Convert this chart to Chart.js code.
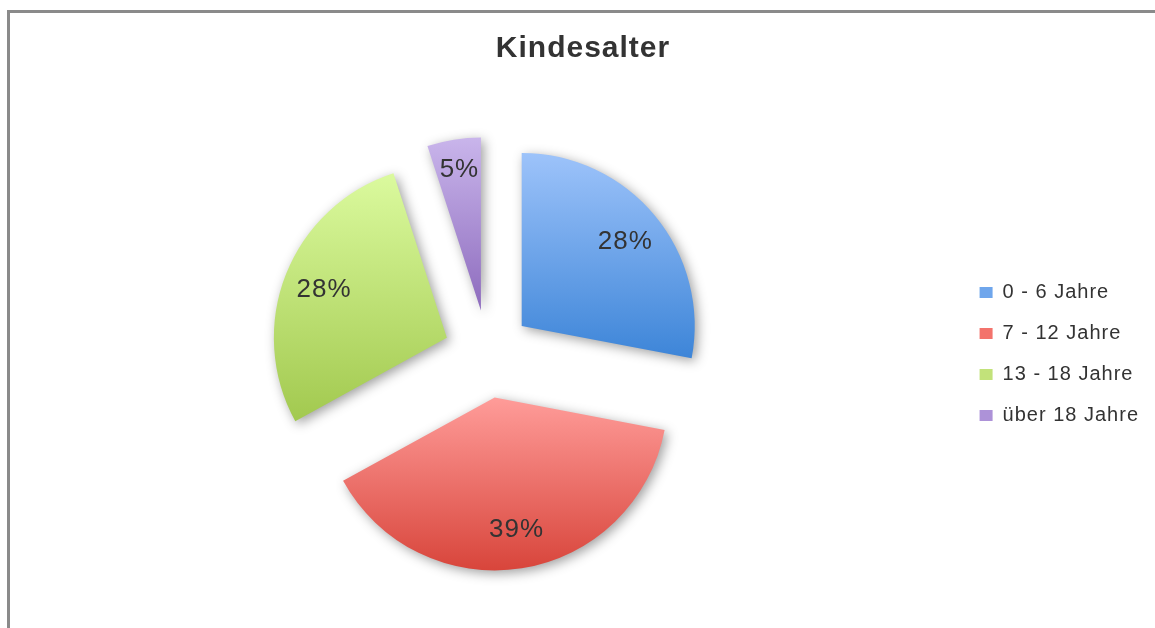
<!DOCTYPE html>
<html><head><meta charset="utf-8">
<script src="https://cdn.jsdelivr.net/npm/chart.js@4/dist/chart.umd.min.js"></script>
<style>
html,body{margin:0;padding:0;width:1155px;height:628px;overflow:hidden;background:#fff;}
#frame{position:absolute;left:7px;top:10px;width:1175px;height:670px;border:3px solid #8a8a8a;box-sizing:border-box;}
#wrap{position:absolute;left:10px;top:13px;width:1150px;height:640px;}
</style></head><body>
<div id="frame"></div>
<div id="wrap"><canvas id="c" width="1150" height="640"></canvas></div>
<script>
const chartTitle = 'Kindesalter';
const categories = ['0 - 6 Jahre', '7 - 12 Jahre', '13 - 18 Jahre', 'über 18 Jahre'];
const values = [28, 39, 28, 5];
const topColors = ['#9DC3FA', '#FF9C99', '#DBFA9E', '#C9B5EB'];
const bottomColors = ['#3D85D8', '#D8453B', '#A2C94F', '#8D6BBD'];
const legendColors = ['#6FA6EC', '#F3736C', '#C2E27A', '#AD92D8'];

const EXPLODE = 44;
const FONT = '"Liberation Sans", Arial, Helvetica, sans-serif';

const spacingPlugin = {
  id: 'spacing',
  beforeLayout(chart) { chart.ctx.letterSpacing = '1px'; },
  beforeDraw(chart) { chart.ctx.letterSpacing = '1px'; }
};

const explodePlugin = {
  id: 'explode',
  beforeDatasetDraw(chart, args) {
    const ctx = chart.ctx;
    args.meta.data.forEach((arc, i) => {
      const p = arc.getProps(['x', 'y', 'startAngle', 'endAngle', 'outerRadius'], true);
      const mid = (p.startAngle + p.endAngle) / 2;
      const dx = Math.cos(mid) * EXPLODE, dy = Math.sin(mid) * EXPLODE;
      let ymin = p.y, ymax = p.y;
      for (let k = 0; k <= 90; k++) {
        const a = p.startAngle + (p.endAngle - p.startAngle) * k / 90;
        const py = p.y + Math.sin(a) * p.outerRadius;
        ymin = Math.min(ymin, py); ymax = Math.max(ymax, py);
      }
      const g = ctx.createLinearGradient(0, ymin, 0, ymax);
      g.addColorStop(0, topColors[i]);
      g.addColorStop(1, bottomColors[i]);
      ctx.save();
      ctx.translate(dx, dy);
      ctx.shadowColor = 'rgba(0,0,0,0.38)';
      ctx.shadowBlur = 12;
      ctx.shadowOffsetX = 3;
      ctx.shadowOffsetY = 3;
      const orig = arc.options;
      arc.options = Object.assign({}, orig, {backgroundColor: g, borderWidth: 0, offset: 0});
      arc.draw(ctx);
      arc.options = orig;
      ctx.restore();
    });
    return false;
  },
  afterDatasetsDraw(chart) {
    const ctx = chart.ctx;
    const meta = chart.getDatasetMeta(0);
    const total = values.reduce((a, b) => a + b, 0);
    ctx.save();
    ctx.letterSpacing = '1px';
    ctx.font = '26px ' + FONT;
    ctx.fillStyle = '#333333';
    ctx.textAlign = 'center';
    ctx.textBaseline = 'middle';
    meta.data.forEach((arc, i) => {
      const p = arc.getProps(['x', 'y', 'startAngle', 'endAngle', 'outerRadius'], true);
      const mid = (p.startAngle + p.endAngle) / 2;
      const frac = (p.endAngle - p.startAngle) / (2 * Math.PI);
      const r = EXPLODE + p.outerRadius * (frac < 0.08 ? 0.83 : 0.77);
      const label = Math.round(values[i] / total * 100) + '%';
      ctx.fillText(label, p.x + Math.cos(mid) * r + 1, p.y + Math.sin(mid) * r + 1);
    });
    ctx.restore();
  }
};

Chart.defaults.font.family = FONT;

new Chart(document.getElementById('c'), {
  type: 'pie',
  data: {
    labels: categories,
    datasets: [{
      data: values,
      backgroundColor: legendColors,
      borderWidth: 0,
      radius: 173
    }]
  },
  options: {
    responsive: false,
    animation: false,
    events: [],
    layout: { padding: { left: 7, right: 11, top: 0, bottom: 22 } },
    plugins: {
      title: {
        display: true,
        text: chartTitle,
        color: '#333333',
        font: { size: 30, weight: 'bold', family: FONT },
        padding: { top: 18, bottom: 10 }
      },
      legend: {
        position: 'right',
        fullSize: false,
        labels: {
          boxWidth: 13,
          boxHeight: 11,
          padding: 21,
          color: '#333333',
          font: { size: 20, family: FONT }
        }
      },
      tooltip: { enabled: false }
    }
  },
  plugins: [spacingPlugin, explodePlugin]
});
</script>
</body></html>
